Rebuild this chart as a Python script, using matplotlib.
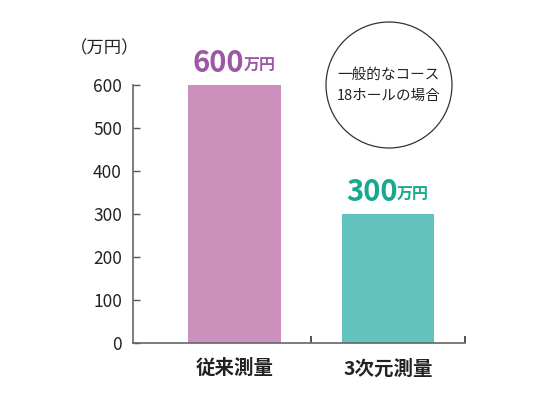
import matplotlib.pyplot as plt
from matplotlib.patches import Circle

plt.rcParams['font.family'] = ['Noto Sans CJK JP', 'DejaVu Sans']

categories = ['従来測量', '3次元測量']
values = [600, 300]
value_labels = ['600', '300']
bar_colors = ['#cc90bd', '#63c2bd']
text_colors = ['#9c58a5', '#17a88e']
yticks = [0, 100, 200, 300, 400, 500, 600]

fig = plt.figure(figsize=(5.5, 4), dpi=100)
ax = fig.add_axes([133 / 550, 57 / 400, 332 / 550, 258 / 400])

x = list(range(len(categories)))
ax.bar(x, values, width=0.6, color=bar_colors)

ax.set_xlim(-0.66, 1.5)
ax.set_ylim(0, 600)
ax.set_yticks(yticks)
ax.set_yticklabels([str(v) for v in yticks], fontsize=12.5, color='#222222')
ax.set_xticks([0.5, 1.5])
ax.set_xticklabels([])
ax.tick_params(axis='y', direction='in', length=5, width=1, color='#555555', pad=8)
ax.tick_params(axis='x', direction='in', length=5, width=1.2, color='#333333')
for s in ['top', 'right']:
    ax.spines[s].set_visible(False)
for s in ['left', 'bottom']:
    ax.spines[s].set_color('#666666')
    ax.spines[s].set_linewidth(1.2)

# category names under the bars
for xi, name in zip(x, categories):
    ax.text(xi, -60, name, ha='center', va='center', fontsize=14,
            fontweight='bold', color='#222222')

# value labels above the bars
for xi, v, lab, c in zip(x, values, value_labels, text_colors):
    ax.annotate(lab, xy=(xi, v), xytext=(-12, 16), textcoords='offset points',
                ha='center', va='center', fontsize=21, fontweight='bold',
                color=c, annotation_clip=False)
    ax.annotate('万円', xy=(xi, v), xytext=(18, 13.5), textcoords='offset points',
                ha='center', va='center', fontsize=11.5, fontweight='bold',
                color=c, annotation_clip=False)

fig.text(105 / 550, 1 - 48 / 400, '（万円）', ha='center', va='center',
         fontsize=12.5, color='#222222')

circ = Circle((389, 400 - 85), 63, transform=None, fill=False,
              edgecolor='#333333', linewidth=0.9)
fig.patches.append(circ)
fig.text(389 / 550, 1 - 75 / 400, '一般的なコース', ha='center', va='center',
         fontsize=10.5, color='#222222')
fig.text(389 / 550, 1 - 96 / 400, '18ホールの場合', ha='center', va='center',
         fontsize=10.5, color='#222222')

fig.savefig('out.png', dpi=100)
